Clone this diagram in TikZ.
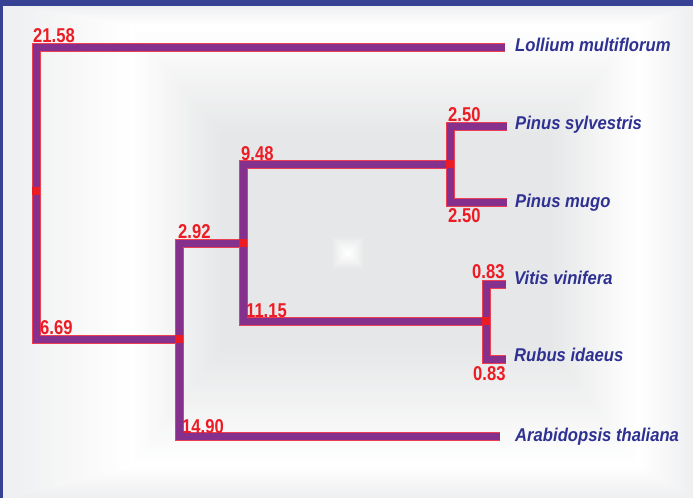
\documentclass[tikz,border=0pt]{standalone}
\usepackage{fontspec}
\setmainfont{Liberation Sans}
\newfontfamily\numfont[FakeStretch=0.83]{Liberation Sans}
\newfontfamily\leaffont[FakeStretch=0.9]{Liberation Sans}
\definecolor{frameblue}{RGB}{56,66,148}
\definecolor{bgA}{RGB}{238,239,240}
\definecolor{bgB}{RGB}{230,231,232}
\definecolor{branchpurple}{RGB}{132,48,140}
\definecolor{branchred}{RGB}{238,62,82}
\definecolor{numred}{RGB}{237,28,36}
\definecolor{leafblue}{RGB}{46,49,146}
\tikzset{
  branch/.style={draw=branchpurple, line width=7pt, line join=miter,
    preaction={draw=branchred, line width=9pt, line join=miter}},
  jn/.style={fill=numred, minimum size=8pt, inner sep=0pt, outer sep=0pt, draw=none},
  num/.style={anchor=base west, inner sep=0pt, text=numred,
    font=\numfont\bfseries\fontsize{20}{20}\selectfont},
  leaf/.style={anchor=base west, inner sep=0pt, text=leafblue,
    font=\leaffont\bfseries\itshape\fontsize{18.5}{20}\selectfont}
}
\begin{document}
\begin{tikzpicture}[x=1pt,y=-1pt]
\useasboundingbox (0,0) rectangle (693,498);
% background
\fill[bgA] (0,0) rectangle (693,498);
\foreach \i in {0,...,24}{
  \pgfmathsetmacro\t{\i/24}
  \pgfmathsetmacro\p{100*\t}
  \fill[white!\p!bgA] ({3+127*\t},{5.5+19.5*\t}) rectangle ({693-53*\t},{498-31*\t});
}
\foreach \i in {1,...,30}{
  \pgfmathsetmacro\t{\i/30}
  \pgfmathsetmacro\p{100*(1-\t)}
  \fill[white!\p!bgB] ({130+90*\t},{25+108*\t}) rectangle ({640-88*\t},{467-117*\t});
}
\foreach \i in {0,...,10}{
  \pgfmathsetmacro\t{\i/10}
  \pgfmathsetmacro\p{100*\t}
  \pgfmathsetmacro\h{16*(1-\t)+1.5}
  \fill[white!\p!bgB] ({348-\h},{253-\h}) rectangle ({348+\h},{253+\h});
}
\fill[frameblue] (0,0) rectangle (693,5.5);
\fill[frameblue] (0,0) rectangle (3,498);
% tree coordinates
\coordinate (root) at (36,191);
\coordinate (n1) at (179,339);
\coordinate (n2) at (243,243);
\coordinate (n3) at (450,164);
\coordinate (n4) at (486,321);
\coordinate (lol) at (505,47);
\coordinate (ps) at (507,126.5);
\coordinate (pm) at (507,202);
\coordinate (vv) at (506,284);
\coordinate (ri) at (506,359);
\coordinate (ar) at (500,436.5);
% branches
\draw[branch] (lol) -| (root) |- (n1)
  (n2) -| (n1) |- (ar)
  (n3) -| (n2) |- (n4)
  (ps) -| (n3) |- (pm)
  (vv) -| (n4) |- (ri);
% junctions
\node[jn] (jroot) at (root) {};
\node[jn] (j1) at (n1) {};
\node[jn] (j2) at (n2) {};
\node[jn] (j3) at (n3) {};
\node[jn] (j4) at (n4) {};
% branch lengths
\node[num] (b1) at (33,42) {21.58};
\node[num] (b2) at (40,334) {6.69};
\node[num] (b3) at (178,238) {2.92};
\node[num] (b4) at (241,160) {9.48};
\node[num] (b5) at (246,317) {11.15};
\node[num] (b6) at (448,121) {2.50};
\node[num] (b7) at (448,222) {2.50};
\node[num] (b8) at (472,278) {0.83};
\node[num] (b9) at (473,380) {0.83};
\node[num] (b10) at (182,433) {14.90};
% leaves
\node[leaf] (t1) at (515,51) {Lollium multiflorum};
\node[leaf] (t2) at (515,129) {Pinus sylvestris};
\node[leaf] (t3) at (515,207) {Pinus mugo};
\node[leaf] (t4) at (514,284) {Vitis vinifera};
\node[leaf] (t5) at (514,361) {Rubus idaeus};
\node[leaf] (t6) at (515,441) {Arabidopsis thaliana};
\end{tikzpicture}
\end{document}
